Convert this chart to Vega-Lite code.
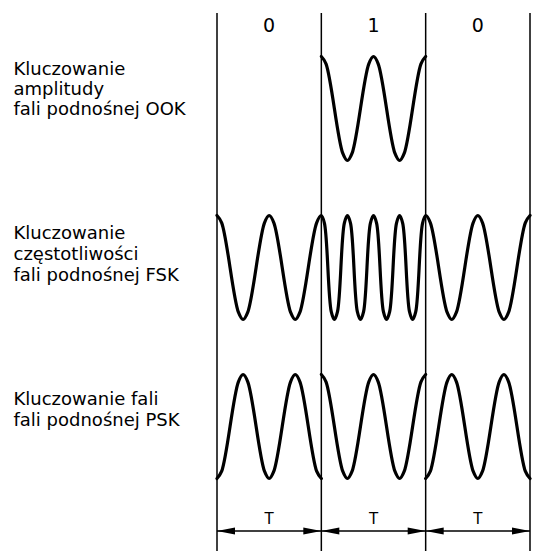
{
  "$schema": "https://vega.github.io/schema/vega-lite/v6.json",
  "background": "white",
  "padding": {"left": 13, "top": 12, "right": 2, "bottom": 0},
  "spacing": 0,
  "bounds": "flush",
  "config": {"view": {"stroke": null}, "axis": {"grid": false}, "font": "DejaVu Sans"},
  "datasets": {
    "bounds": [{"t": 0}, {"t": 1}, {"t": 2}, {"t": 3}],
    "bits": [{"mid": 0.5, "bit": "0"}, {"mid": 1.5, "bit": "1"}, {"mid": 2.5, "bit": "0"}],
    "periods": [
      {"start": 0, "end": 1, "mid": 0.5, "label": "T"},
      {"start": 1, "end": 2, "mid": 1.5, "label": "T"},
      {"start": 2, "end": 3, "mid": 2.5, "label": "T"}
    ],
    "ook": [
      {"t": 1, "v": 1}, {"t": 1.045, "v": 0.86}, {"t": 1.205, "v": -0.86}, {"t": 1.25, "v": -1}, {"t": 1.295, "v": -0.86},
      {"t": 1.455, "v": 0.86}, {"t": 1.5, "v": 1}, {"t": 1.545, "v": 0.86}, {"t": 1.705, "v": -0.86}, {"t": 1.75, "v": -1},
      {"t": 1.795, "v": -0.86}, {"t": 1.955, "v": 0.86}, {"t": 2, "v": 1}
    ],
    "fsk": [
      {"t": 0, "v": 1}, {"t": 0.045, "v": 0.86}, {"t": 0.205, "v": -0.86}, {"t": 0.25, "v": -1}, {"t": 0.295, "v": -0.86},
      {"t": 0.455, "v": 0.86}, {"t": 0.5, "v": 1}, {"t": 0.545, "v": 0.86}, {"t": 0.705, "v": -0.86}, {"t": 0.75, "v": -1},
      {"t": 0.795, "v": -0.86}, {"t": 0.955, "v": 0.86}, {"t": 1, "v": 1},
      {"t": 1.03, "v": 0.85}, {"t": 1.095, "v": -0.85}, {"t": 1.125, "v": -1}, {"t": 1.155, "v": -0.85},
      {"t": 1.22, "v": 0.85}, {"t": 1.25, "v": 1}, {"t": 1.28, "v": 0.85}, {"t": 1.345, "v": -0.85},
      {"t": 1.375, "v": -1}, {"t": 1.405, "v": -0.85}, {"t": 1.47, "v": 0.85}, {"t": 1.5, "v": 1},
      {"t": 1.53, "v": 0.85}, {"t": 1.595, "v": -0.85}, {"t": 1.625, "v": -1}, {"t": 1.655, "v": -0.85},
      {"t": 1.72, "v": 0.85}, {"t": 1.75, "v": 1}, {"t": 1.78, "v": 0.85}, {"t": 1.845, "v": -0.85},
      {"t": 1.875, "v": -1}, {"t": 1.905, "v": -0.85}, {"t": 1.97, "v": 0.85}, {"t": 2, "v": 1},
      {"t": 2.045, "v": 0.86}, {"t": 2.205, "v": -0.86}, {"t": 2.25, "v": -1}, {"t": 2.295, "v": -0.86},
      {"t": 2.455, "v": 0.86}, {"t": 2.5, "v": 1}, {"t": 2.545, "v": 0.86}, {"t": 2.705, "v": -0.86}, {"t": 2.75, "v": -1},
      {"t": 2.795, "v": -0.86}, {"t": 2.955, "v": 0.86}, {"t": 3, "v": 1}
    ],
    "psk": [
      {"seg": 0, "t": 0, "v": -1}, {"seg": 0, "t": 0.045, "v": -0.86}, {"seg": 0, "t": 0.205, "v": 0.86}, {"seg": 0, "t": 0.25, "v": 1},
      {"seg": 0, "t": 0.295, "v": 0.86}, {"seg": 0, "t": 0.455, "v": -0.86}, {"seg": 0, "t": 0.5, "v": -1}, {"seg": 0, "t": 0.545, "v": -0.86},
      {"seg": 0, "t": 0.705, "v": 0.86}, {"seg": 0, "t": 0.75, "v": 1}, {"seg": 0, "t": 0.795, "v": 0.86}, {"seg": 0, "t": 0.955, "v": -0.86},
      {"seg": 0, "t": 1, "v": -1},
      {"seg": 1, "t": 1, "v": 1}, {"seg": 1, "t": 1.045, "v": 0.86}, {"seg": 1, "t": 1.205, "v": -0.86}, {"seg": 1, "t": 1.25, "v": -1},
      {"seg": 1, "t": 1.295, "v": -0.86}, {"seg": 1, "t": 1.455, "v": 0.86}, {"seg": 1, "t": 1.5, "v": 1}, {"seg": 1, "t": 1.545, "v": 0.86},
      {"seg": 1, "t": 1.705, "v": -0.86}, {"seg": 1, "t": 1.75, "v": -1}, {"seg": 1, "t": 1.795, "v": -0.86}, {"seg": 1, "t": 1.955, "v": 0.86},
      {"seg": 1, "t": 2, "v": 1},
      {"seg": 2, "t": 2, "v": -1}, {"seg": 2, "t": 2.045, "v": -0.86}, {"seg": 2, "t": 2.205, "v": 0.86}, {"seg": 2, "t": 2.25, "v": 1},
      {"seg": 2, "t": 2.295, "v": 0.86}, {"seg": 2, "t": 2.455, "v": -0.86}, {"seg": 2, "t": 2.5, "v": -1}, {"seg": 2, "t": 2.545, "v": -0.86},
      {"seg": 2, "t": 2.705, "v": 0.86}, {"seg": 2, "t": 2.75, "v": 1}, {"seg": 2, "t": 2.795, "v": 0.86}, {"seg": 2, "t": 2.955, "v": -0.86},
      {"seg": 2, "t": 3, "v": -1}
    ]
  },
  "vconcat": [
    {
      "width": 313, "height": 16,
      "layer": [
        {"data": {"name": "bounds"}, "mark": {"type": "rule", "color": "black", "strokeWidth": 1.5},
         "encoding": {"x": {"field": "t", "type": "quantitative", "scale": {"domain": [0, 3], "nice": false, "zero": false}, "axis": null}}},
        {"data": {"name": "bits"}, "mark": {"type": "text", "fontSize": 19, "color": "black", "dy": 5, "font": "DejaVu Sans"},
         "encoding": {"x": {"field": "mid", "type": "quantitative", "axis": null}, "text": {"field": "bit"}}}
      ]
    },
    {
      "width": 313, "height": 159,
      "layer": [
        {"data": {"name": "bounds"}, "mark": {"type": "rule", "color": "black", "strokeWidth": 1.5},
         "encoding": {"x": {"field": "t", "type": "quantitative", "scale": {"domain": [0, 3], "nice": false, "zero": false}, "axis": null}}},
        {"data": {"name": "ook"}, "mark": {"type": "line", "interpolate": "catmull-rom", "color": "black", "strokeWidth": 3.2, "strokeCap": "round", "strokeJoin": "round"},
         "encoding": {
           "x": {"field": "t", "type": "quantitative", "axis": null},
           "y": {"field": "v", "type": "quantitative", "scale": {"domain": [-1.529, 1.529], "nice": false, "zero": false},
                 "axis": {"title": ["Kluczowanie", "amplitudy", "fali podnośnej OOK"], "domain": false, "ticks": false, "labels": false, "grid": false,
                          "titleAngle": 0, "titleAlign": "left", "titleBaseline": "alphabetic", "titleX": -204, "titleY": 45,
                          "titleFontSize": 18, "titleFontWeight": "normal", "titleLineHeight": 20, "titleColor": "black", "titleFont": "DejaVu Sans"}}
         }}
      ]
    },
    {
      "width": 313, "height": 159,
      "layer": [
        {"data": {"name": "bounds"}, "mark": {"type": "rule", "color": "black", "strokeWidth": 1.5},
         "encoding": {"x": {"field": "t", "type": "quantitative", "scale": {"domain": [0, 3], "nice": false, "zero": false}, "axis": null}}},
        {"data": {"name": "fsk"}, "mark": {"type": "line", "interpolate": "catmull-rom", "color": "black", "strokeWidth": 3.2, "strokeCap": "round", "strokeJoin": "round"},
         "encoding": {
           "x": {"field": "t", "type": "quantitative", "axis": null},
           "y": {"field": "v", "type": "quantitative", "scale": {"domain": [-1.529, 1.529], "nice": false, "zero": false},
                 "axis": {"title": ["Kluczowanie", "częstotliwości", "fali podnośnej FSK"], "domain": false, "ticks": false, "labels": false, "grid": false,
                          "titleAngle": 0, "titleAlign": "left", "titleBaseline": "alphabetic", "titleX": -204, "titleY": 50,
                          "titleFontSize": 18, "titleFontWeight": "normal", "titleLineHeight": 21, "titleColor": "black", "titleFont": "DejaVu Sans"}}
         }}
      ]
    },
    {
      "width": 313, "height": 159,
      "layer": [
        {"data": {"name": "bounds"}, "mark": {"type": "rule", "color": "black", "strokeWidth": 1.5},
         "encoding": {"x": {"field": "t", "type": "quantitative", "scale": {"domain": [0, 3], "nice": false, "zero": false}, "axis": null}}},
        {"data": {"name": "psk"}, "mark": {"type": "line", "interpolate": "catmull-rom", "color": "black", "strokeWidth": 3.2, "strokeCap": "round", "strokeJoin": "round"},
         "encoding": {
           "x": {"field": "t", "type": "quantitative", "axis": null},
           "y": {"field": "v", "type": "quantitative", "scale": {"domain": [-1.529, 1.529], "nice": false, "zero": false},
                 "axis": {"title": ["Kluczowanie fali", "fali podnośnej PSK"], "domain": false, "ticks": false, "labels": false, "grid": false,
                          "titleAngle": 0, "titleAlign": "left", "titleBaseline": "alphabetic", "titleX": -204, "titleY": 57,
                          "titleFontSize": 18, "titleFontWeight": "normal", "titleLineHeight": 21, "titleColor": "black", "titleFont": "DejaVu Sans"}},
           "detail": {"field": "seg", "type": "nominal"}
         }}
      ]
    },
    {
      "width": 313, "height": 46,
      "layer": [
        {"data": {"name": "bounds"}, "mark": {"type": "rule", "color": "black", "strokeWidth": 1.5},
         "encoding": {"x": {"field": "t", "type": "quantitative", "scale": {"domain": [0, 3], "nice": false, "zero": false}, "axis": null}}},
        {"data": {"name": "periods"}, "mark": {"type": "rule", "color": "black", "strokeWidth": 1.5},
         "encoding": {
           "x": {"field": "start", "type": "quantitative", "axis": null},
           "x2": {"field": "end"},
           "y": {"datum": -0.087, "type": "quantitative", "scale": {"domain": [-1, 1], "nice": false, "zero": false}, "axis": null}
         }},
        {"data": {"name": "periods"}, "mark": {"type": "point", "shape": "M0,0L2,-0.4L2,0.4Z", "size": 324, "filled": true, "color": "black", "opacity": 1},
         "encoding": {
           "x": {"field": "start", "type": "quantitative", "axis": null},
           "y": {"datum": -0.087, "type": "quantitative", "axis": null}
         }},
        {"data": {"name": "periods"}, "mark": {"type": "point", "shape": "M0,0L-2,-0.4L-2,0.4Z", "size": 324, "filled": true, "color": "black", "opacity": 1},
         "encoding": {
           "x": {"field": "end", "type": "quantitative", "axis": null},
           "y": {"datum": -0.087, "type": "quantitative", "axis": null}
         }},
        {"data": {"name": "periods"}, "mark": {"type": "text", "fontSize": 15, "color": "black", "font": "DejaVu Sans"},
         "encoding": {
           "x": {"field": "mid", "type": "quantitative", "axis": null},
           "y": {"datum": 0.435, "type": "quantitative", "axis": null},
           "text": {"field": "label"}
         }}
      ]
    }
  ]
}
